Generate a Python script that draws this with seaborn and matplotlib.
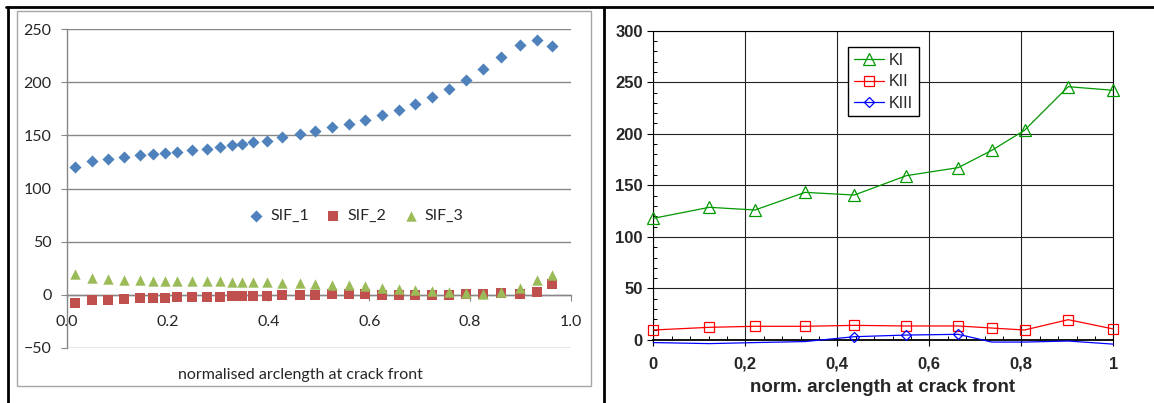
import numpy as np
import pandas as pd
import matplotlib
matplotlib.use("Agg")
import matplotlib.pyplot as plt
from matplotlib.lines import Line2D
from matplotlib.patches import Rectangle
import seaborn as sns

# left chart: SIF along the crack front
arc = [0.017, 0.051, 0.082, 0.114, 0.145, 0.172, 0.195, 0.219, 0.249, 0.278, 0.303,
       0.327, 0.348, 0.370, 0.397, 0.427, 0.462, 0.493, 0.527, 0.560, 0.592, 0.625,
       0.658, 0.691, 0.724, 0.758, 0.791, 0.826, 0.861, 0.899, 0.932, 0.963]
sif_1 = [120.4, 125.7, 127.9, 129.8, 131.3, 132.6, 133.2, 134.5, 136.1, 137.6, 139.5,
         140.8, 142.3, 143.9, 145.1, 148.3, 151.4, 154.5, 157.7, 161.1, 164.9, 169.3,
         174.0, 179.9, 186.5, 194.0, 202.5, 212.5, 223.8, 235.4, 239.8, 233.9]
sif_2 = [-7.9, -5.3, -4.7, -4.1, -3.4, -3.1, -2.8, -2.5, -2.5, -2.2, -1.9,
         -1.6, -1.2, -1.2, -1.2, -0.6, -0.5, -0.6, 0.9, 0.5, 0.3, 0.0,
         -0.3, -0.3, 0.0, 0.0, 0.3, 0.9, 1.2, 0.9, 2.5, 9.7]
sif_3 = [19.0, 15.5, 14.8, 14.2, 13.7, 13.3, 13.1, 12.9, 12.8, 12.6, 12.5,
         12.3, 12.2, 12.2, 11.8, 11.4, 10.8, 10.3, 9.4, 8.7, 7.8, 6.6,
         5.6, 4.7, 3.4, 2.5, 1.2, 0.9, 2.5, 6.6, 13.4, 18.1]
left_yticks = [-50, 0, 50, 100, 150, 200, 250]
left_xticks = [0.0, 0.2, 0.4, 0.6, 0.8, 1.0]

# right chart: KI / KII / KIII
arc_k = [0.0, 0.122, 0.221, 0.330, 0.437, 0.550, 0.663, 0.736, 0.807, 0.902, 1.0]
k_1 = [118.0, 128.7, 126.1, 143.2, 140.6, 159.4, 167.2, 184.0, 203.4, 245.7, 242.2]
k_2 = [9.7, 12.3, 13.3, 13.3, 14.2, 13.6, 13.6, 11.6, 9.7, 19.7, 10.7]
k_3 = [-2.5, -3.5, -2.5, -1.5, 3.2, 4.8, 5.5, -2.0, -2.0, -1.0, -4.0]
right_xticks = [0.0, 0.2, 0.4, 0.6, 0.8, 1.0]
right_xlabels = ["0", "0,2", "0,4", "0,6", "0,8", "1"]
right_yticks = [0, 50, 100, 150, 200, 250, 300]

sns.set_style("white")

W, H = 1154, 403
fig = plt.figure(figsize=(W / 100, H / 100), dpi=100)

def px(x0, y0, x1, y1):
    # pixel box -> figure fraction rect
    return [x0 / W, 1 - y1 / H, (x1 - x0) / W, (y1 - y0) / H]

# ---------- left (excel style) ----------
grey = "#878787"
lfont = "Lato"
ax1 = fig.add_axes(px(66.7, 29.3, 571, 347.7))
sns.scatterplot(x=arc, y=sif_1, marker="D", s=38, color="#4F81BD", linewidth=0,
                ax=ax1, zorder=3, clip_on=False, label="SIF_1")
sns.scatterplot(x=arc, y=sif_2, marker="s", s=46, color="#C0504D", linewidth=0,
                ax=ax1, zorder=3, clip_on=False, label="SIF_2")
sns.scatterplot(x=arc, y=sif_3, marker="^", s=56, color="#9BBB59", linewidth=0,
                ax=ax1, zorder=3, clip_on=False, label="SIF_3")
ax1.set_xlim(0, 1)
ax1.set_ylim(-50, 250)
ax1.set_yticks(left_yticks)
ax1.set_xticks(left_xticks)
ax1.set_xticklabels([f"{t:.1f}" for t in left_xticks])
ax1.grid(axis="y", color=grey, lw=1.0)
ax1.grid(axis="x", visible=False)
ax1.set_axisbelow(True)
for s in ["top", "right"]:
    ax1.spines[s].set_visible(False)
ax1.spines["bottom"].set_position(("data", 0))
for s in ["bottom", "left"]:
    ax1.spines[s].set_color(grey)
    ax1.spines[s].set_linewidth(1.0)
ax1.tick_params(axis="y", direction="out", length=4, color=grey, pad=7,
                labelsize=11.5, left=True)
ax1.tick_params(axis="x", direction="out", length=4, color=grey, pad=11,
                labelsize=11.5, bottom=True)
for lab in ax1.get_xticklabels() + ax1.get_yticklabels():
    lab.set_family(lfont)
ax1.set_ylabel("")
ax1.set_xlabel("normalised arclength at crack front", family=lfont, fontsize=11.5)
ax1.xaxis.set_label_coords((300 - 66.7) / 504.3, (347.7 - 375) / 318.4)
ax1.xaxis.label.set_va("center")
h, l = ax1.get_legend_handles_labels()
ax1.legend(h, l, loc="center", bbox_to_anchor=(352 / W, 1 - 216 / H),
           bbox_transform=fig.transFigure, ncol=3, frameon=False,
           prop={"family": lfont, "size": 11.5}, handletextpad=-0.1,
           columnspacing=0.5, markerscale=1.0, borderpad=0)

# excel chart area frame
fig.add_artist(Rectangle((17 / W, 1 - 386 / H), 574 / W, 375.3 / H,
                         transform=fig.transFigure, fill=False,
                         edgecolor="#A6A6A6", lw=1.0))

# ---------- right ----------
rfont = "Liberation Sans"
ax2 = fig.add_axes(px(653.3, 30.7, 1113.3, 340))
sns.lineplot(x=arc_k, y=k_1, ax=ax2, color="#009900", lw=0.9, marker="^",
             markersize=8.5, markerfacecolor="none", markeredgecolor="#009900",
             markeredgewidth=0.9, zorder=4, clip_on=False)
sns.lineplot(x=arc_k, y=k_2, ax=ax2, color="#FF0000", lw=0.9, marker="s",
             markersize=7, markerfacecolor="none", markeredgecolor="#FF0000",
             markeredgewidth=0.9, zorder=4, clip_on=False)
shown = [i for i, v in enumerate(k_3) if v >= 0]
sns.lineplot(x=arc_k, y=k_3, ax=ax2, color="#0000FF", lw=0.9, marker="D",
             markersize=5.5, markerfacecolor="none", markeredgecolor="#0000FF",
             markeredgewidth=0.9, markevery=shown, zorder=4, clip_on=False)
ax2.set_xlim(0, 1)
ax2.set_ylim(0, 300)
ax2.set_xticks(right_xticks)
ax2.set_xticklabels(right_xlabels)
ax2.set_yticks(right_yticks)
ax2.set_xticks(np.arange(0, 1.0001, 0.04), minor=True)
ax2.set_yticks(np.arange(0, 301, 10), minor=True)
ax2.grid(which="major", color="#222222", lw=0.8)
ax2.set_axisbelow(True)
for s in ax2.spines.values():
    s.set_color("black")
    s.set_linewidth(0.8)
ax2.spines["bottom"].set_linewidth(1.3)
ax2.tick_params(which="major", direction="out", length=4, color="black",
                labelsize=12, left=True, bottom=True)
ax2.tick_params(axis="x", which="major", pad=8)
ax2.tick_params(axis="y", which="major", pad=3.5)
ax2.tick_params(which="minor", direction="in", length=3, color="black",
                left=True, bottom=True, width=0.7)
for lab in ax2.get_xticklabels() + ax2.get_yticklabels():
    lab.set_family(rfont)
    lab.set_fontweight("bold")
ax2.set_xlabel("norm. arclength at crack front", family=rfont, fontweight="bold",
               fontsize=13.5)
ax2.xaxis.set_label_coords((883 - 653.3) / 460, (340 - 388) / 309.3)
ax2.xaxis.label.set_va("center")
handles = [
    Line2D([], [], color="#009900", lw=0.9, marker="^", markersize=8.5,
           markerfacecolor="none", markeredgewidth=0.9),
    Line2D([], [], color="#FF0000", lw=0.9, marker="s", markersize=7,
           markerfacecolor="none", markeredgewidth=0.9),
    Line2D([], [], color="#0000FF", lw=0.9, marker="D", markersize=5.5,
           markerfacecolor="none", markeredgewidth=0.9),
]
leg = ax2.legend(handles, ["KI", "KII", "KIII"], loc="upper left",
                 bbox_to_anchor=(848.3 / W, 1 - 47.3 / H),
                 bbox_transform=fig.transFigure, frameon=True, fancybox=False,
                 framealpha=1, edgecolor="black", borderaxespad=0,
                 prop={"family": rfont, "size": 11.5}, handlelength=1.9,
                 handletextpad=0.3, borderpad=0.35, labelspacing=0.4)
leg.get_frame().set_linewidth(1.0)

# black table borders around the two pictures
for xs, ys in [([6 / W, 1], [1 - 7.3 / H] * 2),
               ([7.5 / W] * 2, [0, 1 - 7.3 / H]),
               ([603.8 / W] * 2, [0, 1 - 7.3 / H])]:
    fig.add_artist(Line2D(xs, ys, color="black", lw=2.0, transform=fig.transFigure))

fig.savefig("out.png", dpi=100)
